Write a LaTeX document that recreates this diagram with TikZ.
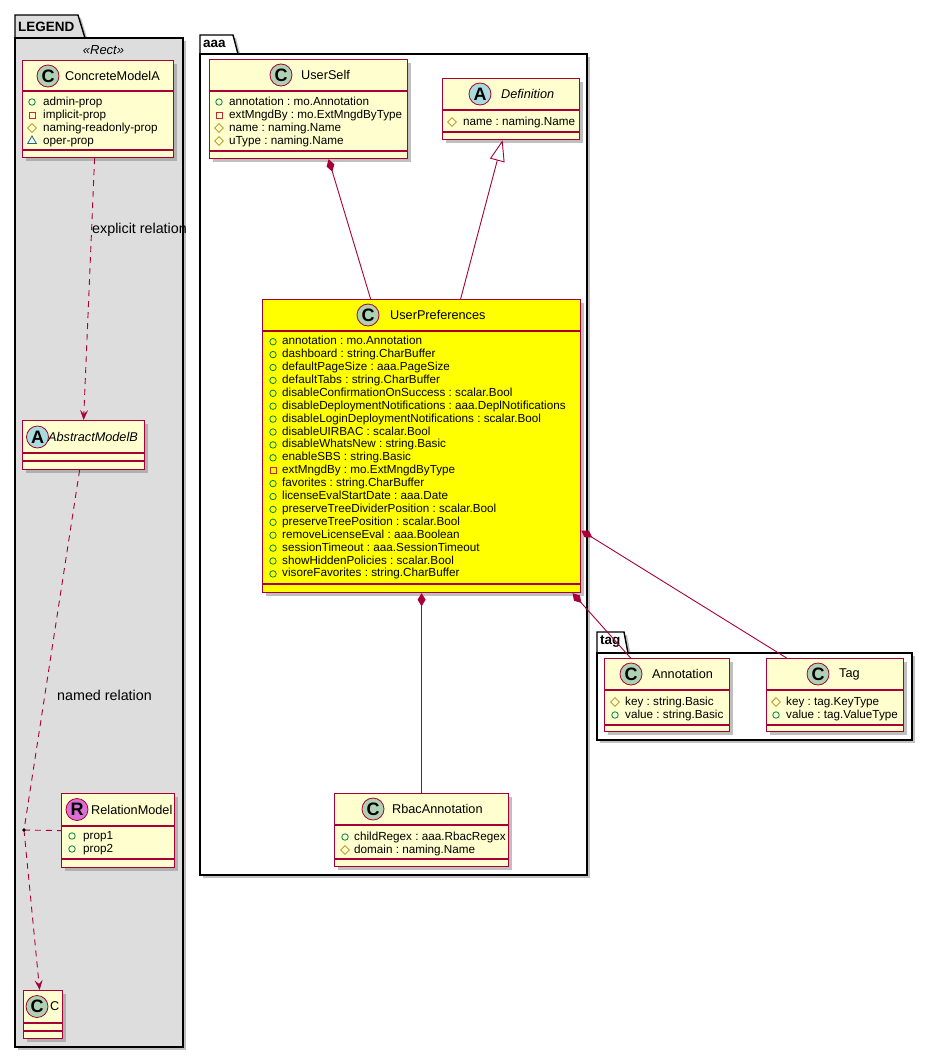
\documentclass[tikz,border=0pt]{standalone}
\usepackage{fontspec}
\setmainfont{Liberation Sans}
\usetikzlibrary{arrows.meta,shapes.geometric,shadows,calc}
\definecolor{umlred}{HTML}{A80036}
\definecolor{umlfill}{HTML}{FEFECE}
\definecolor{umlyellow}{HTML}{FFFF00}
\definecolor{spotc}{HTML}{ADD1B2}
\definecolor{spota}{HTML}{A9DCDF}
\definecolor{spotr}{HTML}{DA70D6}
\definecolor{legendgray}{HTML}{DDDDDD}
\definecolor{pubgreen}{HTML}{038048}
\definecolor{privred}{HTML}{C82930}
\definecolor{protgold}{HTML}{B38D22}
\definecolor{pkgblue}{HTML}{1963A0}
\newcommand\umlname{\fontsize{12.7}{15}\selectfont}
\newcommand\umlattr{\fontsize{11.7}{13}\selectfont}
\newcommand\umlpkg{\bfseries\fontsize{13.5}{16}\selectfont}
\newcommand\umllabel{\fontsize{14.3}{17}\selectfont}
\frenchspacing
\tikzset{
  boxshadow/.style={drop shadow={shadow xshift=3pt,shadow yshift=-3pt,fill=black!45,opacity=.55}},
  umlbox/.style={draw=umlred,line width=1.2pt,fill=umlfill,anchor=north west,inner sep=0pt,boxshadow},
  umlline/.style={draw=umlred,line width=1.2pt},
  pkgbody/.style={draw=black,line width=1.4pt,boxshadow},
  pkgname/.style={anchor=west,inner sep=0pt,font=\umlpkg},
  stereo/.style={inner sep=0pt,font=\itshape\fontsize{13}{15}\selectfont},
  spot/.style={circle,draw=umlred,line width=0.8pt,minimum size=22pt,inner sep=0pt,font=\bfseries\fontsize{18}{18}\selectfont},
  cname/.style={anchor=west,inner sep=0pt,font=\umlname},
  attr/.style={anchor=west,inner sep=0pt,font=\umlattr,text height=8.5pt,text depth=2.5pt},
  pub/.style={circle,draw=pubgreen,line width=0.8pt,minimum size=6.5pt,inner sep=0pt},
  priv/.style={rectangle,draw=privred,line width=0.8pt,minimum size=6pt,inner sep=0pt},
  prot/.style={diamond,draw=protgold,line width=0.8pt,minimum size=9pt,inner sep=0pt},
  pkg/.style={regular polygon,regular polygon sides=3,draw=pkgblue,line width=0.8pt,minimum size=10pt,inner sep=0pt},
  rellabel/.style={anchor=west,inner sep=0pt,font=\umllabel},
  compo/.style={draw=umlred,line width=0.9pt,{Diamond[length=13pt,width=8pt]}-},
  inherit/.style={draw=umlred,line width=0.9pt,-{Triangle[length=21pt,width=15pt,fill=white]}},
  dep/.style={draw=umlred,line width=0.9pt,dash pattern=on 6pt off 5pt,-{Stealth[length=10pt,width=8pt,inset=4pt]}},
  deprel/.style={draw=umlred,line width=0.9pt,dash pattern=on 6pt off 5pt}
}
\begin{document}
\begin{tikzpicture}[x=1pt,y=-1pt]
\useasboundingbox (0,0) rectangle (932,1057);

% packages
\draw[pkgbody,fill=legendgray] (15,38) -- (15,15) -- (78,15) -- (85,38) -- cycle;
\draw[pkgbody,fill=legendgray] (15,38) rectangle (183,1047);
\node[pkgname] (legendname) at (18,27) {LEGEND};
\node[stereo] (legendstereo) at (103.5,50) {«Rect»};

\draw[pkgbody,fill=white] (200,54) -- (200,35) -- (233,35) -- (238,54) -- cycle;
\draw[pkgbody,fill=white] (200,54) rectangle (587,875);
\node[pkgname] (aaaname) at (203,44) {aaa};

\draw[pkgbody,fill=white] (597,653) -- (597,632) -- (624,632) -- (628,653) -- cycle;
\draw[pkgbody,fill=white] (597,653) rectangle (912,740);
\node[pkgname] (tagname) at (600,642) {tag};

% legend classes
\node[umlbox,minimum width=151pt,minimum height=97pt] (cma) at (22,60) {};
\draw[umlline] (22,91) -- (173,91);
\draw[umlline] (22,150) -- (173,150);
\node[spot,fill=spotc] (cmaspot) at (48,76) {C};
\node[cname] (cmaname) at (65,76) {ConcreteModelA};
\foreach \v/\t [count=\i] in {pub/admin-prop,priv/implicit-prop,prot/naming-readonly-prop,pkg/oper-prop}{
  \node[\v] at (32,{89+13*\i}) {};
  \node[attr] at (43,{89+13*\i}) {\t};
}

\node[umlbox,minimum width=122pt,minimum height=49pt] (absb) at (22,420) {};
\draw[umlline] (22,453) -- (144,453);
\draw[umlline] (22,461) -- (144,461);
\node[spot,fill=spota] (absbspot) at (37.5,437) {A};
\node[cname,font=\umlname\itshape] (absbname) at (48,437) {AbstractModelB};

\node[umlbox,minimum width=113pt,minimum height=74pt] (relm) at (61,793) {};
\draw[umlline] (61,826) -- (174,826);
\draw[umlline] (61,859) -- (174,859);
\node[spot,fill=spotr] (relmspot) at (77,809.5) {R};
\node[cname] (relmname) at (91,809.5) {RelationModel};
\foreach \t [count=\i] in {prop1,prop2}{
  \node[pub] at (72,{823+13*\i}) {};
  \node[attr] at (83,{823+13*\i}) {\t};
}

\node[umlbox,minimum width=39pt,minimum height=48pt] (cbox) at (23,990) {};
\draw[umlline] (23,1023) -- (62,1023);
\draw[umlline] (23,1031) -- (62,1031);
\node[spot,fill=spotc] (cboxspot) at (37,1006.5) {C};
\node[cname] (cboxname) at (50,1006.5) {C};

% aaa classes
\node[umlbox,minimum width=198pt,minimum height=99pt] (uself) at (209,59) {};
\draw[umlline] (209,91) -- (407,91);
\draw[umlline] (209,151) -- (407,151);
\node[spot,fill=spotc] (uselfspot) at (281,75) {C};
\node[cname] (uselfname) at (301,75) {UserSelf};
\foreach \v/\t [count=\i] in {pub/annotation : mo.Annotation,priv/extMngdBy : mo.ExtMngdByType,prot/name : naming.Name,prot/uType : naming.Name}{
  \node[\v] at (219,{89+13*\i}) {};
  \node[attr] at (229,{89+13*\i}) {\t};
}

\node[umlbox,minimum width=137pt,minimum height=61pt] (defn) at (442,78) {};
\draw[umlline] (442,110) -- (579,110);
\draw[umlline] (442,132) -- (579,132);
\node[spot,fill=spota] (defnspot) at (480,94) {A};
\node[cname,font=\umlname\itshape] (defnname) at (501,94) {Definition};
\node[prot] at (452,122) {};
\node[attr] at (463,122) {name : naming.Name};

\node[umlbox,fill=umlyellow,minimum width=318pt,minimum height=293pt] (upref) at (262,299) {};
\draw[umlline] (262,331) -- (580,331);
\draw[umlline] (262,584) -- (580,584);
\node[spot,fill=spotc] (uprefspot) at (368,315) {C};
\node[cname] (uprefname) at (390,315) {UserPreferences};
\foreach \v/\t [count=\i] in {pub/annotation : mo.Annotation,pub/dashboard : string.CharBuffer,
  pub/defaultPageSize : aaa.PageSize,pub/defaultTabs : string.CharBuffer,
  pub/disableConfirmationOnSuccess : scalar.Bool,pub/disableDeploymentNotifications : aaa.DeplNotifications,
  pub/disableLoginDeploymentNotifications : scalar.Bool,pub/disableUIRBAC : scalar.Bool,
  pub/disableWhatsNew : string.Basic,pub/enableSBS : string.Basic,priv/extMngdBy : mo.ExtMngdByType,
  pub/favorites : string.CharBuffer,pub/licenseEvalStartDate : aaa.Date,
  pub/preserveTreeDividerPosition : scalar.Bool,pub/preserveTreePosition : scalar.Bool,
  pub/removeLicenseEval : aaa.Boolean,pub/sessionTimeout : aaa.SessionTimeout,
  pub/showHiddenPolicies : scalar.Bool,pub/visoreFavorites : string.CharBuffer}{
  \node[\v] at (273,{328.8+12.9*\i}) {};
  \node[attr] at (282,{328.8+12.9*\i}) {\t};
}

\node[umlbox,minimum width=174pt,minimum height=73pt] (rbac) at (334,793) {};
\draw[umlline] (334,825) -- (508,825);
\draw[umlline] (334,859) -- (508,859);
\node[spot,fill=spotc] (rbacspot) at (373,809) {C};
\node[cname] (rbacname) at (392,809) {RbacAnnotation};
\foreach \v/\t [count=\i] in {pub/childRegex : aaa.RbacRegex,prot/domain : naming.Name}{
  \node[\v] at (345,{824+13*\i}) {};
  \node[attr] at (354,{824+13*\i}) {\t};
}

% tag classes
\node[umlbox,minimum width=125pt,minimum height=73pt] (anno) at (604,658) {};
\draw[umlline] (604,690) -- (729,690);
\draw[umlline] (604,725) -- (729,725);
\node[spot,fill=spotc] (annospot) at (631,674) {C};
\node[cname] (annoname) at (652,674) {Annotation};
\foreach \v/\t [count=\i] in {prot/key : string.Basic,pub/value : string.Basic}{
  \node[\v] at (615,{689+13*\i}) {};
  \node[attr] at (625,{689+13*\i}) {\t};
}

\node[umlbox,minimum width=137pt,minimum height=73pt] (tagc) at (766,658) {};
\draw[umlline] (766,690) -- (903,690);
\draw[umlline] (766,725) -- (903,725);
\node[spot,fill=spotc] (tagspot) at (818,674) {C};
\node[cname] (tagcname) at (839,674) {Tag};
\foreach \v/\t [count=\i] in {prot/key : tag.KeyType,pub/value : tag.ValueType}{
  \node[\v] at (776,{689+13*\i}) {};
  \node[attr] at (786,{689+13*\i}) {\t};
}

% relations
\draw[dep] ([xshift=-3.5pt]cma.south) -- (absb.north);
\node[rellabel] (explbl) at (92,230) {explicit relation};
\coordinate (reldot) at (24,830);
\draw[deprel] ([xshift=-4pt]absb.south) -- (reldot);
\draw[dep] (reldot) -- ([xshift=-3.5pt]cbox.north);
\draw[deprel] (reldot) -- (relm.west);
\fill (reldot) circle (1.8pt);
\node[rellabel] (namedlbl) at (57,695) {named relation};

\draw[compo] ([xshift=20pt]uself.south) -- ([xshift=-51pt]upref.north);
\draw[inherit] ([xshift=39pt]upref.north) -- ([xshift=-8.5pt]defn.south);
\draw[compo] (upref.south -| rbac.north) -- (rbac.north);
\draw[compo] ([xshift=151pt]upref.south) -- ([xshift=-36.5pt]anno.north);
\draw[compo] ([yshift=-84.5pt]upref.east) -- ([xshift=-48.5pt]tagc.north);
\end{tikzpicture}
\end{document}
